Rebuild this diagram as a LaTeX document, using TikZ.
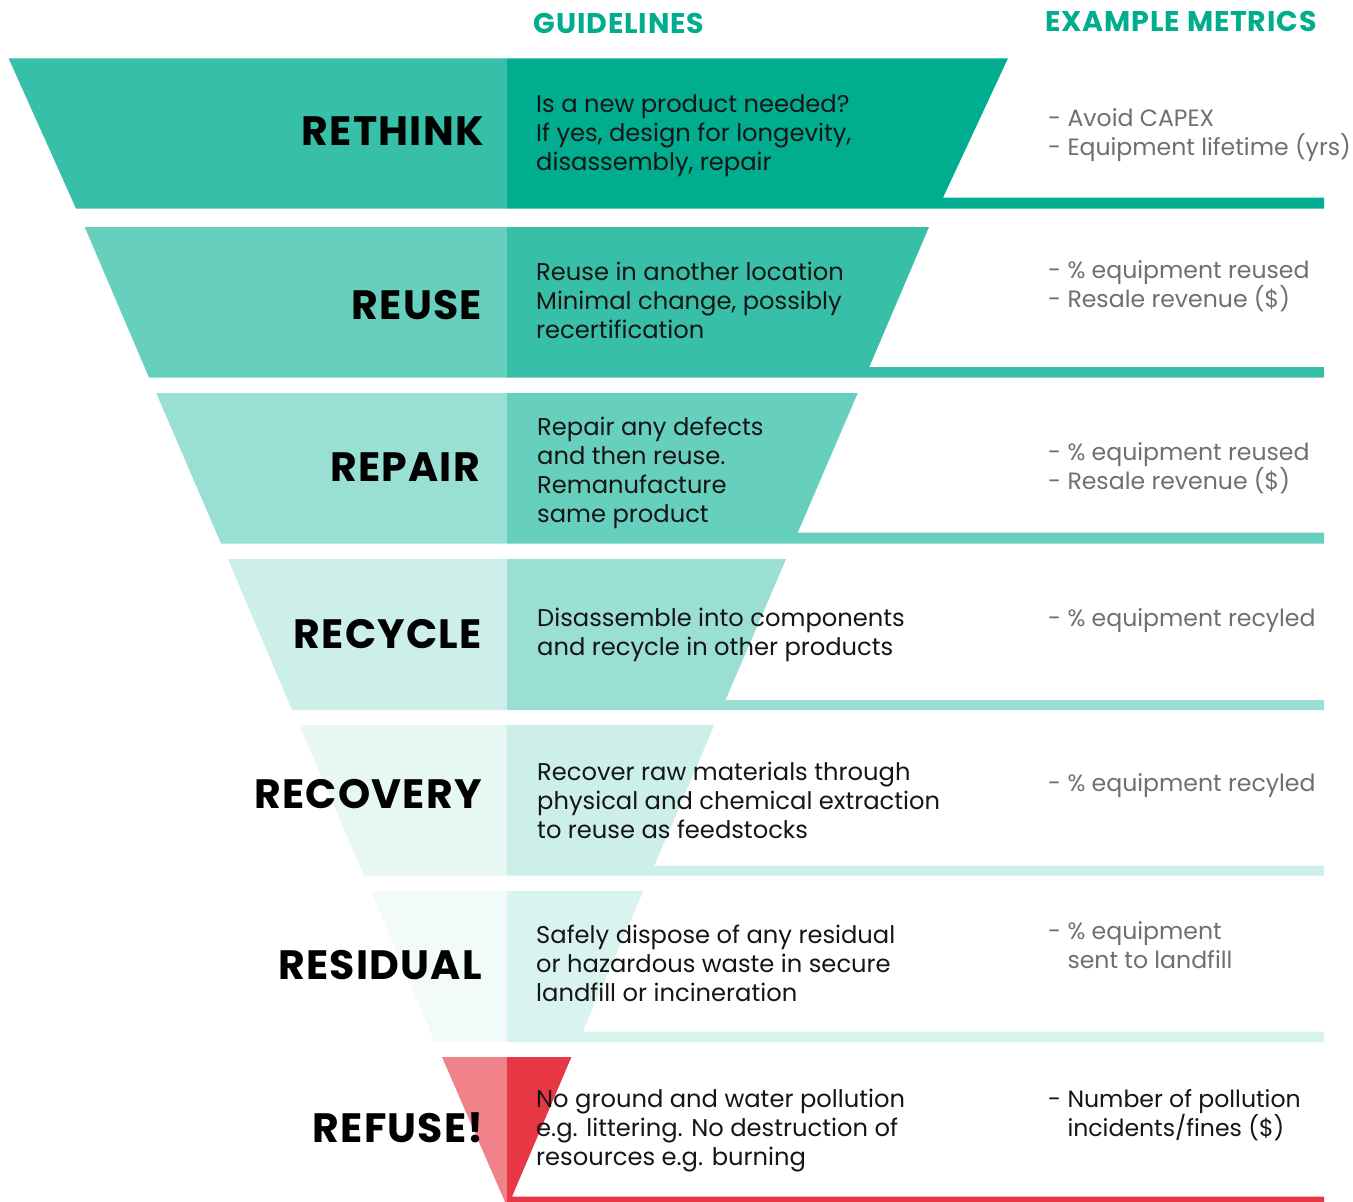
\documentclass[tikz,border=0pt]{standalone}
\usepackage{fontspec}
\setmainfont{Poppins}
\definecolor{cA}{HTML}{00AD8F}
\definecolor{cB}{HTML}{38BFA7}
\definecolor{cC}{HTML}{66CFBD}
\definecolor{cD}{HTML}{9ADFD3}
\definecolor{cE}{HTML}{CCEFE9}
\definecolor{cF}{HTML}{E6F7F4}
\definecolor{cG}{HTML}{F2FBF9}
\definecolor{cH}{HTML}{D9F4EF}
\definecolor{redL}{HTML}{F0838A}
\definecolor{redR}{HTML}{E83744}
\definecolor{headc}{HTML}{00AE8E}
\definecolor{txt}{HTML}{151515}
\definecolor{metc}{HTML}{6F6F70}
\begin{document}
\begin{tikzpicture}[x=1pt,y=-1pt,
  title/.style={anchor=east, inner sep=0pt, font=\fontsize{41}{46}\selectfont\bfseries\addfontfeatures{LetterSpace=3}, text=black},
  guide/.style={anchor=west, inner sep=0pt, align=left, font=\fontsize{24.2}{29}\selectfont, text=txt},
  metric/.style={anchor=west, inner sep=0pt, align=left, font=\fontsize{23.6}{29}\selectfont, text=metc},
  head/.style={inner sep=0pt, font=\fontsize{28.5}{31}\selectfont\bfseries\addfontfeatures{LetterSpace=3}, text=headc}]
\useasboundingbox (0,0) rectangle (1353,1202);
% band 1
\fill[cB] (8.6,58.3) -- (507,58.3) -- (507,208.5) -- (76,208.5) -- cycle;
\fill[cA] (507,58.3) -- (1008,58.3) -- (943,197.7) -- (1324,197.7) -- (1324,208.5) -- (507,208.5) -- cycle;
% band 2
\fill[cC] (84.7,227) -- (507,227) -- (507,377.5) -- (149,377.5) -- cycle;
\fill[cB] (507,227) -- (929,227) -- (869.3,367) -- (1324,367) -- (1324,377.5) -- (507,377.5) -- cycle;
% band 3
\fill[cD] (156.3,393.2) -- (507,393.2) -- (507,543.5) -- (221,543.5) -- cycle;
\fill[cC] (507,393.2) -- (857.7,393.2) -- (797.7,532.7) -- (1324,532.7) -- (1324,543.5) -- (507,543.5) -- cycle;
% band 4
\fill[cE] (228,559.2) -- (507,559.2) -- (507,710) -- (292,710) -- cycle;
\fill[cD] (507,559.2) -- (786,559.2) -- (725.5,700) -- (1324,700) -- (1324,710) -- (507,710) -- cycle;
% band 5
\fill[cF] (299.3,725) -- (507,725) -- (507,875.7) -- (364,875.7) -- cycle;
\fill[cE] (507,725) -- (714.3,725) -- (654.3,865.7) -- (1324,865.7) -- (1324,875.7) -- (507,875.7) -- cycle;
% band 6
\fill[cG] (370.7,891) -- (507,891) -- (507,1042) -- (435,1042) -- cycle;
\fill[cH] (507,891) -- (643.3,891) -- (582.7,1031.7) -- (1324,1031.7) -- (1324,1042) -- (507,1042) -- cycle;
% band 7
\fill[redL] (442,1057) -- (507,1057) -- (507,1202) -- (505,1202) -- cycle;
\fill[redR] (507,1057) -- (571.4,1057) -- (512,1196.7) -- (1324,1196.7) -- (1324,1202) -- (507,1202) -- cycle;
% headers
\node[head] (hg) at (619,23) {GUIDELINES};
\node[head] (hm) at (1181,21.5) {EXAMPLE METRICS};
% titles
\node[title] (t1) at (484,130.7) {RETHINK};
\node[title] (t2) at (482,305) {REUSE};
\node[title] (t3) at (480,467.5) {REPAIR};
\node[title] (t4) at (482,634) {RECYCLE};
\node[title] (t5) at (482,794) {RECOVERY};
\node[title] (t6) at (482,964.7) {RESIDUAL};
\node[title] (t7) at (484,1128) {REFUSE!};
% guidelines
\node[guide] (g1) at (536,136) {Is a new product needed?\\If yes, design for longevity,\\disassembly, repair};
\node[guide] (g2) at (536,300.5) {Reuse in another location\\Minimal change, possibly\\recertification};
\node[guide] (g3) at (537,472.5) {Repair any defects\\and then reuse.\\Remanufacture\\same product};
\node[guide] (g4) at (537,635) {Disassemble into components\\and recycle in other products};
\node[guide] (g5) at (537,800.5) {Recover raw materials through\\physical and chemical extraction\\to reuse as feedstocks};
\node[guide] (g6) at (536,963) {Safely dispose of any residual\\or hazardous waste in secure\\landfill or incineration};
\node[guide] (g7) at (536,1130.5) {No ground and water pollution\\e.g. littering. No destruction of\\resources e.g. burning};
% metrics
\node[metric] (m1) at (1048,135.5) {- Avoid CAPEX\\- Equipment lifetime (yrs)};
\node[metric] (m2) at (1048,286.5) {- \% equipment reused\\- Resale revenue (\$)};
\node[metric] (m3) at (1048,468.5) {- \% equipment reused\\- Resale revenue (\$)};
\node[metric] (m4) at (1048,620.5) {- \% equipment recyled};
\node[metric] (m5) at (1048,785.5) {- \% equipment recyled};
\node[metric] (m6) at (1048,945) {- \% equipment\\\phantom{- }sent to landfill};
\node[metric, text=txt] (m7) at (1048,1115.5) {- Number of pollution\\\phantom{- }incidents/fines (\$)};
\end{tikzpicture}
\end{document}
